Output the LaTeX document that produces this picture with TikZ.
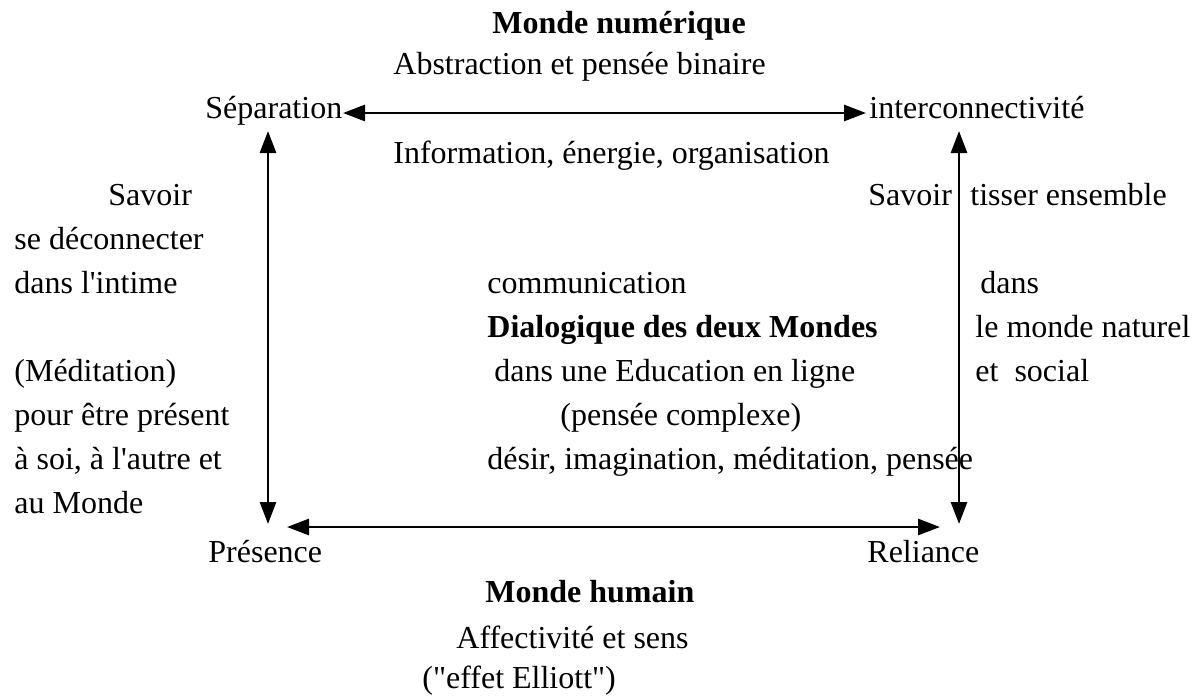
\documentclass[tikz,border=0pt]{standalone}
\usepackage{fontspec}
\newfontfamily\wordfont{Liberation Serif}[Ligatures=CommonOff]
\usetikzlibrary{arrows.meta}
\tikzset{
  txt/.style={anchor=base west, inner sep=0pt, font=\wordfont\fontsize{16}{19}\selectfont},
  bold/.style={txt, font=\wordfont\fontsize{16}{19}\selectfont\bfseries},
  dbl/.style={line width=1.4pt, {Triangle[length=11pt,width=8pt]}-{Triangle[length=11pt,width=8pt]}}
}
\begin{document}
\begin{tikzpicture}[x=0.5pt, y=-0.5pt]
\useasboundingbox (0,0) rectangle (1194,698);
\node[bold] (numerique) at (492,33) {Monde numérique};
\node[txt] (abstraction) at (393,74) {Abstraction et pensée binaire};
\node[txt] (separation) at (205,118) {Séparation};
\node[txt] (inter) at (869,118) {interconnectivité};
\node[txt] (information) at (393,163) {Information, énergie, organisation};
\node[txt] (savoirG) at (108,205) {Savoir};
\node[txt] (deconnecter) at (14,249) {se déconnecter};
\node[txt] (intime) at (14,293) {dans l'intime};
\node[txt] (meditation) at (14,381) {(Méditation)};
\node[txt] (present) at (14,425) {pour être présent};
\node[txt] (soi) at (14,469) {à soi, à l'autre et};
\node[txt] (aumonde) at (14,513) {au Monde};
\node[txt] (communication) at (487,293) {communication};
\node[bold] (dialogique) at (487,337) {Dialogique des deux Mondes};
\node[txt] (education) at (494,381) {dans une Education en ligne};
\node[txt] (complexe) at (560,425) {(pensée complexe)};
\node[txt] (desir) at (487,469) {désir, imagination, méditation, pensée};
\node[txt] (savoirD) at (868,205) {Savoir};
\node[txt] (tisser) at (970,205) {tisser ensemble};
\node[txt] (dans) at (980,293) {dans};
\node[txt] (naturel) at (975,337) {le monde naturel};
\node[txt] (social) at (975,381) {et\hspace{0.5em}social};
\node[txt] (presence) at (208,562) {Présence};
\node[txt] (reliance) at (867,562) {Reliance};
\node[bold] (humain) at (485,602) {Monde humain};
\node[txt] (affect) at (456,648) {Affectivité et sens};
\node[txt] (elliott) at (422,688) {("effet Elliott")};
\coordinate (sepE) at (343,113);
\coordinate (intW) at (866,113);
\coordinate (sepS) at (268,131);
\coordinate (preN) at (268,524);
\coordinate (intS) at (959,131);
\coordinate (relN) at (959,524);
\coordinate (preE) at (287,527);
\coordinate (relW) at (940,527);
\draw[dbl] (sepE) -- (intW);
\draw[dbl] (sepS) -- (preN);
\draw[dbl] (intS) -- (relN);
\draw[dbl] (preE) -- (relW);
\end{tikzpicture}
\end{document}
